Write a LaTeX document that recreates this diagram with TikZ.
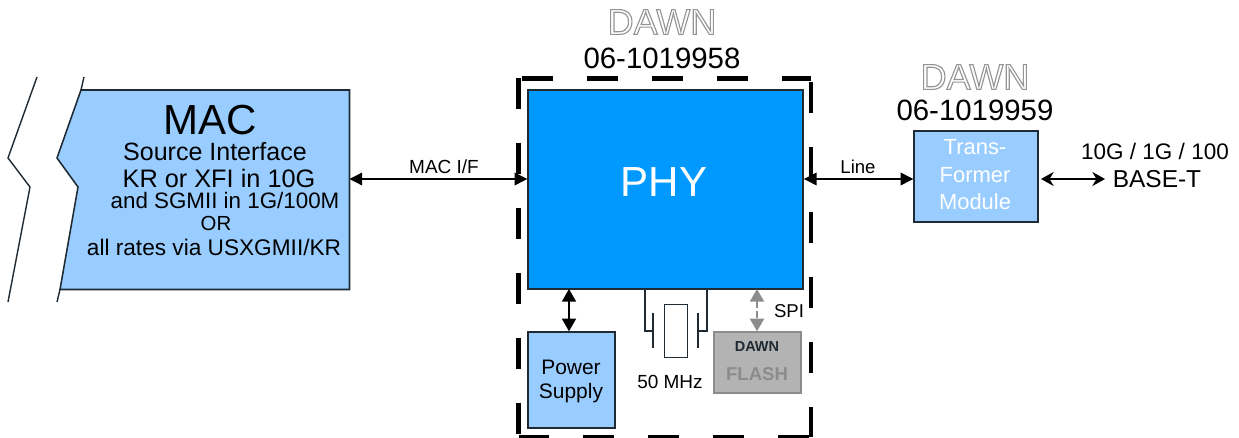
\documentclass[tikz,border=0pt]{standalone}
\usepackage{fontspec}
\setmainfont{Liberation Sans}
\usetikzlibrary{arrows.meta}
\definecolor{phyblue}{HTML}{0099FF}
\definecolor{boxblue}{HTML}{99CCFF}
\definecolor{edgedark}{HTML}{1F2A33}
\definecolor{flashgrey}{HTML}{B3B3B3}
\definecolor{spigrey}{HTML}{8C8C8C}
\newcommand{\fs}[1]{\fontsize{#1}{#1}\selectfont}
\newcommand{\hollow}[1]{\special{pdf:code q 1 Tr 0.8 w 0.58 0.58 0.58 RG}#1\special{pdf:code Q}}
\tikzset{
	block/.style={shape=rectangle, draw=edgedark, line width=1.1pt, anchor=north west, inner sep=0pt},
	label/.style={anchor=center, align=center, inner sep=0pt},
	side/.style={line width=2.9pt, black, dash pattern={on 22pt off 24.2pt}},
	wire/.style={line width=0.95pt, black, {Triangle[length=9pt,width=9pt]}-{Triangle[length=9pt,width=9pt]}},
	thin wire/.style={line width=0.75pt, edgedark},
}
\begin{document}
\begin{tikzpicture}[x=0.025cm, y=-0.025cm]
	\useasboundingbox (0, 0) rectangle (1239, 438);
	% Dashed enclosure and main blocks:
	\node[shape=rectangle, anchor=north west, inner sep=0pt, minimum width=7.3cm, minimum height=8.9375cm] (enclosure) at (518.5, 78.5){};
	\draw[side, dash phase=43.4pt] (enclosure.north west) -- (enclosure.north east);
	\draw[side] (enclosure.north west) -- (enclosure.south west);
	\draw[side] (enclosure.south west) -- (enclosure.south east);
	\draw[side, dash phase=43.4pt] (enclosure.north east) -- (enclosure.south east);
	\node[block, fill=phyblue, minimum width=6.875cm, minimum height=4.975cm] (phy) at (527.3, 89.3){};
	\node[label, text=white, font=\fs{29.9}] (phytext) at (664, 182){PHY};
	\node[block, fill=boxblue, minimum width=2.175cm, minimum height=2.4cm] (power) at (527.3, 331.3){};
	\node[block, draw=spigrey, fill=flashgrey, minimum width=2.175cm, minimum height=1.525cm] (flash) at (713.3, 331.3){};
	\node[block, fill=boxblue, minimum width=3.1cm, minimum height=2.275cm] (trans) at (913.3, 130.3){};
	% MAC with its broken edge:
	\draw[line width=1.1pt, draw=edgedark, fill=boxblue] (81, 90) -- (349.5, 90) -- (349.5, 289.5) -- (60, 289.5) -- (78, 187) -- (57, 158) -- cycle;
	\draw[line width=1pt, edgedark] (84, 77) -- (81, 90);
	\draw[line width=1pt, edgedark] (60, 289.5) -- (57, 302);
	\draw[line width=1pt, edgedark] (37, 77) -- (8, 158) -- (30, 187) -- (8, 302);
	\coordinate (macport) at (349.5, 179);
	% Connectors:
	\draw[wire] (macport) -- (phy.west |- macport);
	\draw[wire] (phy.east |- macport) -- (trans.west |- macport);
	\coordinate (basetport) at (1105, 179);
	\draw[line width=1.2pt, black, {Stealth[length=9pt,width=10pt]}-{Stealth[length=9pt,width=10pt]}] (1041, 179) -- (basetport);
	\coordinate (powerport) at (569, 289);
	\draw[line width=1.1pt, black, {Triangle[length=9pt,width=10pt]}-{Triangle[length=9pt,width=10pt]}] (powerport) -- (powerport |- power.north);
	\coordinate (spiport) at (757, 289);
	\draw[line width=1.3pt, spigrey, dash pattern={on 5pt off 2pt}, {Triangle[length=9pt,width=10pt]}-{Triangle[length=9pt,width=10pt]}] (spiport) -- (spiport |- flash.north);
	% Crystal:
	\node[block, line width=0.75pt, fill=white, minimum width=0.575cm, minimum height=1.325cm] (crystal) at (664, 304){};
	\coordinate (xtalleft) at (645, 289);
	\coordinate (xtalright) at (707, 289);
	\draw[thin wire] (xtalleft) -- (645, 331) -- (653, 331);
	\draw[thin wire] (xtalright) -- (707, 331) -- (698, 331);
	\draw[thin wire] (653, 313) -- (653, 348);
	\draw[thin wire] (698, 313) -- (698, 348);
	% Labels:
	\node[label, font=\fs{25.6}] (dawnphy) at (662, 22){\hollow{DAWN}};
	\node[label, font=\fs{20.9}] (partphy) at (662, 58){06-1019958};
	\node[label, font=\fs{25.6}] (dawntrans) at (975, 77){\hollow{DAWN}};
	\node[label, font=\fs{20.9}] (parttrans) at (975, 110){06-1019959};
	\node[label, font=\fs{29.9}] (mactitle) at (210, 120){MAC};
	\node[label, font=\fs{17.8}] (macline1) at (215, 152){Source Interface};
	\node[label, font=\fs{18}] (macline2) at (219, 178){KR or XFI in 10G};
	\node[label, font=\fs{15.9}] (macline3) at (225, 201){and SGMII in 1G/100M};
	\node[label, font=\fs{14.5}] (macline4) at (216, 223){OR};
	\node[label, font=\fs{16.1}] (macline5) at (214, 247){all rates via USXGMII/KR};
	\node[label, font=\fs{13.5}] (maclabel) at (444, 167){MAC I/F};
	\node[label, font=\fs{13.2}] (linelabel) at (858, 167){Line};
	\node[label, text=white, font=\fs{15.6}] (transline1) at (975, 147){Trans-};
	\node[label, text=white, font=\fs{15.6}] (transline2) at (975, 175){Former};
	\node[label, text=white, font=\fs{15.6}] (transline3) at (975, 202){Module};
	\node[label, font=\fs{16}] (speeds) at (1155, 151){10G / 1G / 100};
	\node[label, font=\fs{17.4}] (baset) at (1157, 179){BASE-T};
	\node[label, font=\fs{14.9}] (powerline1) at (571, 367){Power};
	\node[label, font=\fs{14.9}] (powerline2) at (571, 393){Supply};
	\node[label, font=\fs{13.5}] (clock) at (670, 382){50 MHz};
	\node[label, font=\fs{13.2}] (spilabel) at (789, 311){SPI};
	\node[label, text=edgedark, font=\bfseries\fs{10.3}] (flashvendor) at (757, 347){DAWN};
	\node[label, text=spigrey, font=\bfseries\fs{13.2}] (flashname) at (757, 374){FLASH};
\end{tikzpicture}
\end{document}
